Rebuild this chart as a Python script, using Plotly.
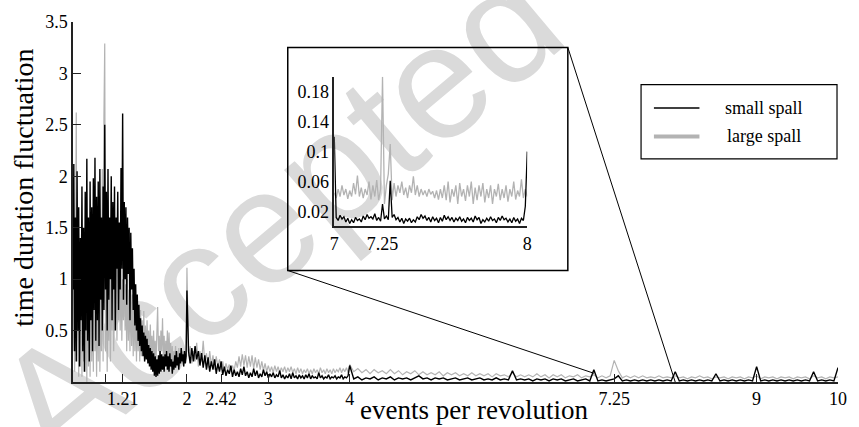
import numpy as np
import plotly.graph_objects as go

# ---------------- data ----------------
# frequency grids (events per revolution)
freq_low = np.round(np.linspace(0.60, 2.00, 141), 3)
freq_mid = np.round(np.linspace(2.02, 4.00, 100), 3)
freq_high = np.round(np.linspace(4.05, 10.00, 120), 3)
freq_inset = np.round(np.linspace(7.00, 8.00, 101), 3)

small_low = [
    0.9, 2.12, 0.3, 1.6, 0.2, 2.05, 0.5, 1.7, 0.15, 1.4,
    0.6, 1.9, 0.3, 1.5, 0.1, 1.85, 0.5, 2.17, 0.4, 1.6,
    0.2, 1.95, 0.6, 1.7, 0.3, 1.98, 0.7, 2.18, 0.4, 1.8,
    0.6, 1.95, 0.35, 2.07, 0.8, 1.6, 0.5, 1.9, 0.7, 2.5,
    0.9, 1.85, 0.5, 2.07, 0.8, 1.6, 1.0, 2.0, 0.6, 1.75,
    0.9, 1.9, 0.5, 1.6, 1.1, 1.85, 0.7, 1.55, 0.9, 2.08,
    1.1, 2.61, 0.8, 1.75, 1.0, 1.7, 0.75, 1.6, 1.05, 1.5,
    0.6, 1.45, 0.9, 1.3, 0.7, 1.1, 0.55, 0.95, 0.5, 0.85,
    0.4, 0.75, 0.35, 0.62, 0.3, 0.55, 0.25, 0.48, 0.2, 0.45,
    0.22, 0.42, 0.18, 0.36, 0.15, 0.33, 0.12, 0.3, 0.1, 0.28,
    0.06, 0.25, 0.05, 0.22, 0.06, 0.26, 0.08, 0.3, 0.1, 0.27,
    0.12, 0.25, 0.1, 0.27, 0.15, 0.3, 0.12, 0.25, 0.1, 0.28,
    0.15, 0.22, 0.08, 0.2, 0.12, 0.26, 0.14, 0.3, 0.16, 0.24,
    0.12, 0.28, 0.18, 0.33, 0.2, 0.27, 0.15, 0.3, 0.18, 0.25,
    0.89,
]
large_low = [
    0.3, 1.1, 0.1, 0.9, 2.62, 0.2, 1.3, 0.05, 0.8, 0.15,
    1.2, 0.05, 1.0, 0.2, 1.4, 0.1, 0.7, 0.0, 1.1, 0.15,
    0.9, 0.05, 1.3, 0.2, 0.8, 0.1, 1.2, 0.3, 0.7, 0.05,
    1.0, 0.2, 1.5, 0.1, 0.8, 0.3, 2.07, 0.2, 2.58, 3.29,
    0.3, 1.2, 0.1, 0.9, 0.4, 1.3, 0.2, 1.1, 0.5, 1.4,
    0.3, 1.0, 0.6, 1.2, 0.4, 1.16, 0.6, 1.1, 0.5, 1.2,
    0.4, 1.0, 0.6, 1.15, 0.5, 0.95, 0.3, 1.0, 0.4, 0.9,
    0.3, 0.97, 0.35, 0.85, 0.25, 0.8, 0.3, 0.75, 0.2, 0.7,
    0.3, 0.65, 0.2, 0.7, 0.25, 0.6, 0.3, 0.69, 0.2, 0.55,
    0.25, 0.6, 0.3, 0.5, 0.2, 0.56, 0.3, 0.45, 0.2, 0.5,
    0.25, 0.4, 0.2, 0.55, 0.73, 0.3, 0.45, 0.2, 0.5, 0.3,
    0.62, 0.25, 0.45, 0.2, 0.4, 0.3, 0.5, 0.2, 0.48, 0.25,
    0.38, 0.2, 0.35, 0.15, 0.3, 0.2, 0.35, 0.15, 0.3, 0.2,
    0.33, 0.15, 0.28, 0.33, 0.18, 0.3, 0.15, 0.27, 0.2, 0.3,
    1.11,
]
small_mid = [
    0.3, 0.18, 0.33, 0.2, 0.35, 0.22, 0.3, 0.16, 0.28, 0.14,
    0.26, 0.12, 0.24, 0.1, 0.2, 0.12, 0.22, 0.08, 0.18, 0.1,
    0.2, 0.07, 0.15, 0.06, 0.12, 0.08, 0.16, 0.05, 0.12, 0.06,
    0.1, 0.05, 0.13, 0.07, 0.15, 0.06, 0.1, 0.04, 0.09, 0.05,
    0.13, 0.06, 0.11, 0.04, 0.08, 0.05, 0.12, 0.06, 0.1, 0.04,
    0.08, 0.05, 0.09, 0.04, 0.07, 0.05, 0.11, 0.04, 0.07, 0.03,
    0.06, 0.04, 0.08, 0.03, 0.09, 0.04, 0.06, 0.03, 0.07, 0.04,
    0.06, 0.03, 0.07, 0.04, 0.08, 0.03, 0.06, 0.04, 0.05, 0.03,
    0.09, 0.04, 0.06, 0.03, 0.05, 0.04, 0.07, 0.03, 0.05, 0.04,
    0.06, 0.03, 0.05, 0.04, 0.07, 0.03, 0.05, 0.04, 0.06, 0.16,
]
large_mid = [
    0.25, 0.35, 0.18, 0.3, 0.2, 0.38, 0.15, 0.3, 0.2, 0.4,
    0.18, 0.28, 0.14, 0.3, 0.16, 0.26, 0.12, 0.25, 0.15, 0.22,
    0.12, 0.2, 0.1, 0.18, 0.12, 0.17, 0.1, 0.16, 0.11, 0.2,
    0.14, 0.25, 0.15, 0.27, 0.16, 0.26, 0.14, 0.25, 0.15, 0.26,
    0.13, 0.24, 0.14, 0.22, 0.12, 0.2, 0.11, 0.18, 0.1, 0.16,
    0.1, 0.15, 0.09, 0.16, 0.1, 0.15, 0.09, 0.14, 0.1, 0.15,
    0.09, 0.14, 0.1, 0.15, 0.09, 0.13, 0.08, 0.14, 0.09, 0.13,
    0.08, 0.12, 0.09, 0.13, 0.08, 0.12, 0.08, 0.13, 0.09, 0.12,
    0.08, 0.14, 0.09, 0.12, 0.08, 0.13, 0.09, 0.12, 0.08, 0.13,
    0.09, 0.12, 0.1, 0.14, 0.09, 0.13, 0.1, 0.14, 0.09, 0.17,
]
small_high = [
    0.03, 0.05, 0.02, 0.04, 0.03, 0.05, 0.02, 0.04, 0.03, 0.05,
    0.02, 0.04, 0.03, 0.04, 0.02, 0.04, 0.06, 0.03, 0.04, 0.02,
    0.04, 0.03, 0.04, 0.02, 0.03, 0.04, 0.02, 0.03, 0.04, 0.02,
    0.03, 0.04, 0.02, 0.03, 0.02, 0.04, 0.02, 0.03, 0.02, 0.11,
    0.02, 0.03, 0.02, 0.03, 0.01, 0.03, 0.02, 0.03, 0.01, 0.03,
    0.02, 0.03, 0.01, 0.02, 0.03, 0.01, 0.02, 0.03, 0.01, 0.12,
    0.01, 0.02, 0.01, 0.02, 0.03, 0.06, 0.01, 0.02, 0.01, 0.02,
    0.01, 0.02, 0.01, 0.02, 0.01, 0.02, 0.01, 0.02, 0.01, 0.1,
    0.01, 0.02, 0.01, 0.02, 0.01, 0.02, 0.01, 0.02, 0.01, 0.08,
    0.01, 0.02, 0.01, 0.02, 0.01, 0.02, 0.01, 0.02, 0.01, 0.15,
    0.01, 0.02, 0.01, 0.02, 0.01, 0.02, 0.01, 0.02, 0.01, 0.02,
    0.01, 0.02, 0.01, 0.1, 0.01, 0.02, 0.01, 0.02, 0.01, 0.14,
]
large_high = [
    0.1, 0.13, 0.09, 0.12, 0.08, 0.12, 0.09, 0.11, 0.08, 0.12,
    0.08, 0.11, 0.07, 0.1, 0.08, 0.11, 0.07, 0.1, 0.07, 0.09,
    0.07, 0.1, 0.06, 0.09, 0.07, 0.09, 0.06, 0.08, 0.06, 0.09,
    0.06, 0.08, 0.06, 0.08, 0.05, 0.08, 0.06, 0.07, 0.05, 0.09,
    0.05, 0.07, 0.05, 0.07, 0.05, 0.08, 0.05, 0.07, 0.04, 0.07,
    0.05, 0.07, 0.04, 0.06, 0.05, 0.07, 0.04, 0.06, 0.05, 0.07,
    0.04, 0.06, 0.04, 0.06, 0.21, 0.11, 0.04, 0.06, 0.04, 0.06,
    0.04, 0.06, 0.04, 0.05, 0.04, 0.06, 0.04, 0.05, 0.04, 0.06,
    0.04, 0.05, 0.03, 0.05, 0.04, 0.06, 0.04, 0.05, 0.03, 0.05,
    0.04, 0.05, 0.03, 0.05, 0.04, 0.05, 0.03, 0.05, 0.04, 0.06,
    0.03, 0.05, 0.04, 0.05, 0.03, 0.05, 0.04, 0.05, 0.03, 0.05,
    0.04, 0.05, 0.03, 0.06, 0.04, 0.05, 0.03, 0.05, 0.04, 0.05,
]
small_inset = [
    0.12, 0.012, 0.008, 0.015, 0.01, 0.013, 0.006, 0.011, 0.004, 0.009,
    0.005, 0.012, 0.008, 0.01, 0.006, 0.014, 0.009, 0.016, 0.011, 0.013,
    0.01, 0.017, 0.008, 0.012, 0.007, 0.03, 0.01, 0.014, 0.009, 0.061,
    0.012, 0.016, 0.009, 0.012, 0.006, 0.011, 0.004, 0.01, 0.007, 0.011,
    0.005, 0.009, 0.006, 0.013, 0.009, 0.016, 0.011, 0.014, 0.008, 0.012,
    0.006, 0.013, 0.008, 0.011, 0.005, 0.012, 0.007, 0.015, 0.009, 0.013,
    0.008, 0.012, 0.006, 0.011, 0.008, 0.013, 0.007, 0.01, 0.005, 0.012,
    0.008, 0.011, 0.006, 0.014, 0.009, 0.012, 0.004, 0.009, 0.006, 0.011,
    0.007, 0.013, 0.008, 0.01, 0.005, 0.012, 0.008, 0.014, 0.009, 0.011,
    0.006, 0.01, 0.005, 0.012, 0.007, 0.01, 0.004, 0.011, 0.008, 0.027,
    0.1,
]
large_inset = [
    0.045, 0.038, 0.05, 0.04, 0.055, 0.042, 0.05, 0.037, 0.048, 0.04,
    0.058, 0.043, 0.068, 0.04, 0.052, 0.038, 0.05, 0.042, 0.06, 0.036,
    0.055, 0.04, 0.062, 0.035, 0.05, 0.2, 0.03, 0.055, 0.07, 0.11,
    0.035, 0.058, 0.04, 0.055, 0.045, 0.06, 0.042, 0.052, 0.038, 0.055,
    0.045, 0.067, 0.042, 0.055, 0.04, 0.05, 0.042, 0.048, 0.04, 0.05,
    0.043, 0.047, 0.038, 0.048, 0.036, 0.05, 0.038, 0.055, 0.035, 0.06,
    0.032, 0.05, 0.04, 0.055, 0.03, 0.058, 0.04, 0.05, 0.034, 0.055,
    0.04, 0.06, 0.03, 0.052, 0.035, 0.055, 0.04, 0.058, 0.032, 0.05,
    0.038, 0.055, 0.03, 0.05, 0.04, 0.057, 0.035, 0.05, 0.038, 0.055,
    0.033, 0.05, 0.04, 0.06, 0.036, 0.048, 0.04, 0.063, 0.038, 0.05,
    0.04,
]

series_names = ["small spall", "large spall"]
x_tick_vals = [1, 1.21, 2, 2.42, 3, 4, 7.25, 9, 10]
x_tick_text = ["", "1.21", "2", "2.42", "3", "4", "7.25", "9", "10"]
y_tick_vals = [0.5, 1, 1.5, 2, 2.5, 3, 3.5]
y_tick_text = ["0.5", "1", "1.5", "2", "2.5", "3", "3.5"]
inset_x_vals = [7, 7.25, 8]
inset_x_text = ["7", "7.25", "8"]
inset_y_vals = [0.02, 0.06, 0.1, 0.14, 0.18]
inset_y_text = ["0.02", "0.06", "0.1", "0.14", "0.18"]

# ---------------- layout helpers ----------------
W, H = 859, 427
L, R, T, B = 73, 13, 14, 45
PW, PH = W - L - R, H - T - B
X_RANGE = [0.6, 10]
Y_RANGE = [0, 3.5]


def px(p):
    return (p - L) / PW


def py(p):
    return (H - B - p) / PH


def dx(v):
    return (v - X_RANGE[0]) / (X_RANGE[1] - X_RANGE[0])


def dy(v):
    return (v - Y_RANGE[0]) / (Y_RANGE[1] - Y_RANGE[0])


SERIF = "Liberation Serif, Times New Roman, serif"
BLACK = "#000000"
GRAY = "#b3b3b3"

freq_all = np.concatenate([freq_low, freq_mid, freq_high])
small_all = small_low + small_mid + small_high
large_all = large_low + large_mid + large_high

fig = go.Figure()
fig.add_trace(go.Scatter(x=freq_all, y=large_all, mode="lines", name=series_names[1],
                         line=dict(color=GRAY, width=1.2), xaxis="x", yaxis="y"))
fig.add_trace(go.Scatter(x=freq_all, y=small_all, mode="lines", name=series_names[0],
                         line=dict(color=BLACK, width=1.4), xaxis="x", yaxis="y"))
fig.add_trace(go.Scatter(x=freq_inset, y=large_inset, mode="lines", name=series_names[1],
                         line=dict(color=GRAY, width=1.3), xaxis="x2", yaxis="y2"))
fig.add_trace(go.Scatter(x=freq_inset, y=small_inset, mode="lines", name=series_names[0],
                         line=dict(color=BLACK, width=1.3), xaxis="x2", yaxis="y2"))

axis_common = dict(showgrid=False, zeroline=False, showline=True, linecolor="#222222",
                   linewidth=1.5, tickfont=dict(family=SERIF, size=18, color="black"))

inset_box = [px(290), py(268), px(573), py(40)]

shapes = [
    # watermark (behind data)
    dict(type="rect", xref="paper", yref="paper", layer="below",
         x0=px(265), x1=px(275), y0=py(203), y1=py(193),
         line=dict(width=0), fillcolor="rgba(0,0,0,0)",
         label=dict(text="Accepted", textangle=-40, textposition="middle center",
                    font=dict(family="Liberation Sans, Arial, sans-serif", size=162,
                              color="#dadada"))),
    # inset frame
    dict(type="rect", xref="paper", yref="paper",
         x0=inset_box[0], y0=inset_box[1], x1=inset_box[2], y1=inset_box[3],
         line=dict(color="black", width=1.5)),
    # zoom connectors
    dict(type="line", xref="paper", yref="paper",
         x0=inset_box[0], y0=inset_box[1], x1=dx(7), y1=dy(0.085),
         line=dict(color="black", width=1)),
    dict(type="line", xref="paper", yref="paper",
         x0=inset_box[2], y0=inset_box[3], x1=dx(8), y1=dy(0),
         line=dict(color="black", width=1)),
    # legend box
    dict(type="rect", xref="paper", yref="paper",
         x0=px(647), y0=py(154), x1=px(845), y1=py(78),
         line=dict(color="black", width=1.2), fillcolor="white"),
    dict(type="line", xref="paper", yref="paper",
         x0=px(660), x1=px(706), y0=py(102), y1=py(102),
         line=dict(color=BLACK, width=1.5)),
    dict(type="line", xref="paper", yref="paper",
         x0=px(660), x1=px(706), y0=py(131), y1=py(131),
         line=dict(color=GRAY, width=4)),
]


def label(text, x, y, size, angle=0):
    return dict(text=text, xref="paper", yref="paper", x=px(x), y=py(y),
                xanchor="center", yanchor="middle", textangle=angle, showarrow=False,
                font=dict(family=SERIF, size=size, color="black"))


annotations = [
    label(series_names[0], 771, 102, 18),
    label(series_names[1], 771, 131, 18),
    label("events per revolution", 478, 411, 27),
    label("time duration fluctuation", 23, 184, 28, -90),
]

fig.update_layout(
    width=W, height=H,
    margin=dict(l=L, r=R, t=T, b=B, pad=0),
    paper_bgcolor="white", plot_bgcolor="rgba(0,0,0,0)",
    showlegend=False,
    xaxis=dict(axis_common, range=X_RANGE, domain=[0, 1], anchor="y",
               tickmode="array", tickvals=x_tick_vals, ticktext=x_tick_text,
               ticks="inside", ticklen=8, tickwidth=1.2, tickcolor="#222222"),
    yaxis=dict(axis_common, range=Y_RANGE, domain=[0, 1], anchor="x",
               tickmode="array", tickvals=y_tick_vals, ticktext=y_tick_text,
               ticks="inside", ticklen=8, tickwidth=1.2, tickcolor="#222222"),
    xaxis2=dict(axis_common, range=[7, 8], domain=[px(337), px(532)], anchor="y2",
                tickmode="array", tickvals=inset_x_vals, ticktext=inset_x_text, ticks="",
                tickfont=dict(family=SERIF, size=18, color="black")),
    yaxis2=dict(axis_common, range=[0, 0.2], domain=[py(223), py(70)], anchor="x2",
                tickmode="array", tickvals=inset_y_vals, ticktext=inset_y_text, ticks="",
                tickfont=dict(family=SERIF, size=18, color="black")),
    shapes=shapes,
    annotations=annotations,
)

fig.write_html("out.html")
